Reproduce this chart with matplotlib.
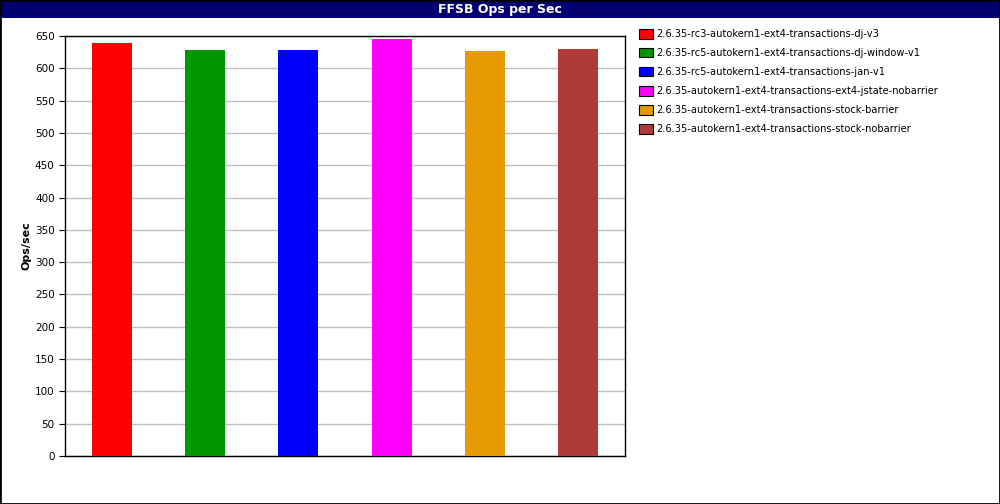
import numpy as np
import matplotlib.pyplot as plt
from matplotlib.patches import Rectangle

# data
labels = [
    '2.6.35-rc3-autokern1-ext4-transactions-dj-v3',
    '2.6.35-rc5-autokern1-ext4-transactions-dj-window-v1',
    '2.6.35-rc5-autokern1-ext4-transactions-jan-v1',
    '2.6.35-autokern1-ext4-transactions-ext4-jstate-nobarrier',
    '2.6.35-autokern1-ext4-transactions-stock-barrier',
    '2.6.35-autokern1-ext4-transactions-stock-nobarrier',
]
ops = [639, 628, 628, 645, 627, 630]
colors = ['#ff0000', '#009600', '#0000ff', '#ff00ff', '#e69900', '#b03a3a']
yticks = np.arange(0, 651, 50)

W, H = 1000, 504
fig = plt.figure(figsize=(W / 100, H / 100), dpi=100)
fig.patch.set_facecolor('white')

# title band
fig.patches.append(Rectangle((0, 1 - 18 / H), 1, 18 / H, transform=fig.transFigure,
                             facecolor='#000070', edgecolor='none', zorder=0))
fig.text(0.5, 1 - 9 / H, 'FFSB Ops per Sec', color='white', fontweight='bold',
         fontsize=9, ha='center', va='center')
# outer border
fig.patches.append(Rectangle((0, 0), 1, 1, transform=fig.transFigure, fill=False,
                             edgecolor='black', linewidth=2, zorder=5))

ax = fig.add_axes([65 / W, 1 - 456 / H, 560 / W, 420 / H])
x = np.arange(len(ops))
ax.bar(x, ops, width=0.43, color=colors, zorder=3)
ax.set_xlim(-0.5, len(ops) - 0.5)
ax.set_ylim(0, 650)
ax.set_yticks(yticks)
ax.set_xticks([])
ax.tick_params(axis='y', labelsize=7.5, length=4, direction='out')
ax.yaxis.grid(True, color='#c0c0c0', linewidth=1, zorder=0)
for s in ax.spines.values():
    s.set_linewidth(1)
ax.set_ylabel('Ops/sec', fontweight='bold', fontsize=8)
ax.yaxis.set_label_coords(-0.06, 0.5)

# legend, drawn by hand to match box layout
for i, (lab, c) in enumerate(zip(labels, colors)):
    y = 1 - (34 + 19 * i) / H
    fig.patches.append(Rectangle((639 / W, y - 4.5 / H), 14 / W, 9 / H,
                                 transform=fig.transFigure, facecolor=c,
                                 edgecolor='black', linewidth=0.8))
    fig.text(656 / W, y, lab, fontsize=7.1, va='center', ha='left')

fig.savefig('out.png', dpi=100)
